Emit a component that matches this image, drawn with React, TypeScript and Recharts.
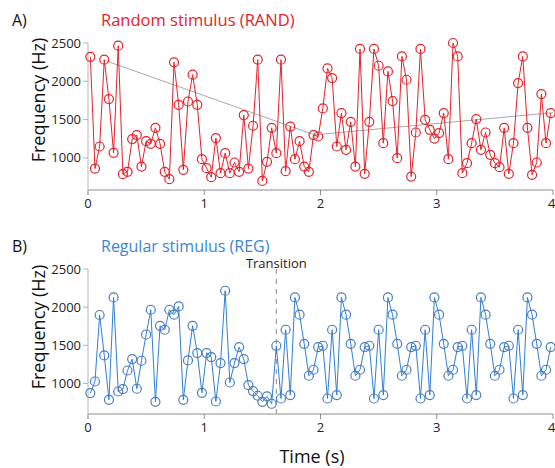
import { LineChart, Line, XAxis, YAxis, ReferenceLine } from 'recharts';

const FONT = '"Open Sans", "Noto Sans", sans-serif';
const RED = '#e3222b';
const BLUE_LINE = '#2f7fd6';
const BLUE_DOT = '#4a7dbf';

// tone frequencies (Hz), one per 40 ms tone
const RAND_FREQ = [
  2320, 860, 1148, 2282, 1768, 1065, 2465, 787, 817, 1245,
  1297, 886, 1218, 1183, 1392, 1183, 817, 721, 2247, 1693,
  843, 1736, 2086, 1693, 983, 865, 748, 1258, 800, 1061,
  800, 939, 817, 1559, 860, 1419, 2282, 699, 948, 1392,
  1061, 2282, 826, 1409, 983, 1218, 886, 817, 1297, 1279,
  1645, 2168, 2042, 1148, 1585, 1105, 1471, 886, 2422, 791,
  1471, 2422, 2203, 1192, 2129, 1742, 996, 2325, 2020, 755,
  1331, 2422, 1497, 1366, 1252, 1323, 1585, 983, 2500, 2325,
  800, 931, 1192, 1506, 1105, 1331, 1039, 931, 878, 1392,
  791, 1192, 1977, 2325, 1392, 778, 939, 1833, 1192, 1585,
];

const REG_FREQ = [
  874, 1026, 1897, 1367, 786, 2127, 895, 927, 1170, 1320,
  931, 1298, 1642, 1966, 760, 1756, 1704, 1966, 1901, 2009,
  786, 1302, 1756, 1398, 878, 1398, 1346, 764, 1267, 2215,
  1013, 1267, 1477, 1320, 979, 900, 839, 760, 830, 734,
  1494, 803, 1704, 848, 2127, 1901, 1520, 1101, 1180, 1477,
  1494, 803, 1704, 848, 2127, 1901, 1520, 1101, 1180, 1477,
  1494, 803, 1704, 848, 2127, 1901, 1520, 1101, 1180, 1477,
  1494, 803, 1704, 848, 2127, 1901, 1520, 1101, 1180, 1477,
  1494, 803, 1704, 848, 2127, 1901, 1520, 1101, 1180, 1477,
  1494, 803, 1704, 848, 2127, 1901, 1520, 1101, 1180, 1477,
];

// gray trend over the RAND sequence
const TREND_T = [0.15, 1.95, 4.0];
const TREND_FREQ = [2270, 1300, 1590];

const TONE_DUR = 0.04;
const TRANSITION_T = 1.62;
const X_TICKS = [0, 1, 2, 3, 4];
const Y_TICKS = [1000, 1500, 2000, 2500];

const toRows = (freqs: number[]) => freqs.map((f, i) => ({ t: (i + 0.5) * TONE_DUR, f }));
const randData = toRows(RAND_FREQ);
const regData = toRows(REG_FREQ);
const trendData = TREND_T.map((t, i) => ({ t, f: TREND_FREQ[i] }));

const tickStyle = { fill: '#222', fontSize: 13, fontFamily: FONT };

const abs = (left: number, top: number, extra: React.CSSProperties = {}): React.CSSProperties => ({
  position: 'absolute', left, top, fontFamily: FONT, lineHeight: 1, whiteSpace: 'nowrap', ...extra,
});

const axes = (yMin: number) => [
  <XAxis
    key="x"
    dataKey="t"
    type="number"
    domain={[0, 4]}
    ticks={X_TICKS}
    height={30}
    stroke="#8c8c8c"
    tickSize={5}
    tickMargin={4}
    tick={tickStyle}
  />,
  <YAxis
    key="y"
    dataKey="f"
    type="number"
    domain={[yMin, 2500]}
    ticks={Y_TICKS}
    width={88}
    stroke="#b4b4b4"
    tickSize={5}
    tickMargin={2}
    tick={tickStyle}
  />,
];

export default function App() {
  return (
    <div style={{ position: 'absolute', left: 0, top: 0, width: 555, height: 468, background: '#fff' }}>
      <div style={abs(0, 0)}>
        <LineChart width={555} height={240} data={randData} margin={{ top: 43, right: 2, bottom: 20, left: 0 }}>
          {axes(580)}
          <Line data={trendData} dataKey="f" type="linear" stroke="#a8a8a8" strokeWidth={1} dot={false} isAnimationActive={false} />
          <Line
            dataKey="f"
            type="linear"
            stroke={RED}
            strokeWidth={1}
            dot={{ r: 4.5, stroke: RED, strokeWidth: 1.2, fill: 'none' }}
            activeDot={false}
            isAnimationActive={false}
          />
        </LineChart>
      </div>

      <div style={abs(0, 230)}>
        <LineChart width={555} height={238} data={regData} margin={{ top: 39, right: 2, bottom: 24, left: 0 }}>
          {axes(600)}
          <ReferenceLine
            x={TRANSITION_T}
            stroke="#8a8a8a"
            strokeDasharray="5 5"
            label={{ value: 'Transition', position: 'top', offset: 1, fontSize: 13, fill: '#222', fontFamily: FONT }}
          />
          <Line
            dataKey="f"
            type="linear"
            stroke={BLUE_LINE}
            strokeWidth={1}
            dot={{ r: 4.5, stroke: BLUE_DOT, strokeWidth: 1.2, fill: 'none' }}
            activeDot={false}
            isAnimationActive={false}
          />
        </LineChart>
      </div>

      <div style={abs(12, 12, { fontSize: 16, color: '#111' })}>A)</div>
      <div style={abs(101, 12, { fontSize: 16.5, color: RED })}>Random stimulus (RAND)</div>
      <div style={abs(12, 238, { fontSize: 16, color: '#111' })}>B)</div>
      <div style={abs(101, 238, { fontSize: 16, color: '#3a86d6' })}>Regular stimulus (REG)</div>

      <div style={abs(38, 100, { fontSize: 18, color: '#111', transform: 'translate(-50%, -50%) rotate(-90deg)' })}>Frequency (Hz)</div>
      <div style={abs(38, 327, { fontSize: 18, color: '#111', transform: 'translate(-50%, -50%) rotate(-90deg)' })}>Frequency (Hz)</div>
      <div style={abs(312, 456, { fontSize: 18, color: '#111', transform: 'translate(-50%, -50%)' })}>Time (s)</div>
    </div>
  );
}
